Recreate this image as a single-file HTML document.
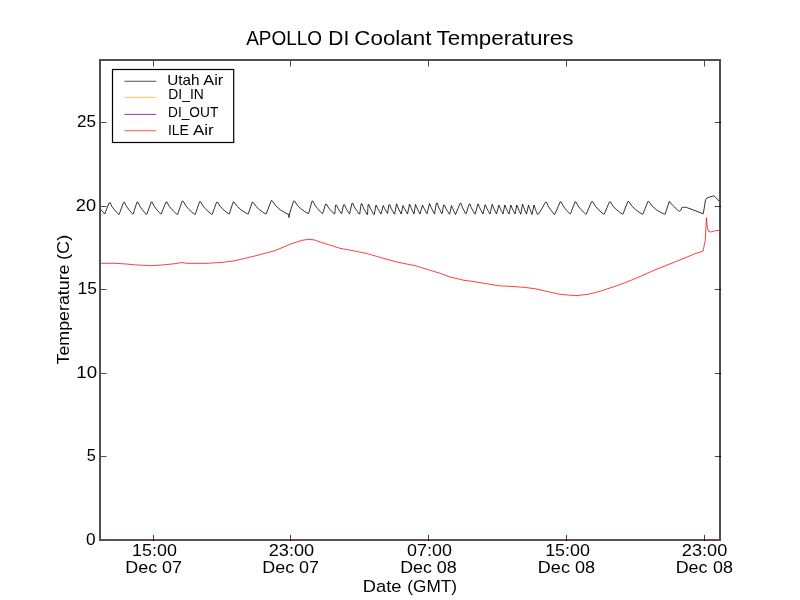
<!DOCTYPE html>
<html><head><meta charset="utf-8"><title>APOLLO DI Coolant Temperatures</title>
<style>
html,body{margin:0;padding:0;background:#fff;}
body{width:800px;height:600px;overflow:hidden;font-family:"Liberation Sans",sans-serif;}
svg{display:block;will-change:transform;transform:translateZ(0);}
text{font-family:"Liberation Sans",sans-serif;fill:#000;}
</style></head><body>
<svg width="800" height="600" viewBox="0 0 800 600">
<rect x="0" y="0" width="800" height="600" fill="#ffffff"/>

<path d="M100.00,208.60 L104.65,214.00 L109.15,202.85 L110.15,202.80 L111.92,206.48 L114.25,209.64 L116.58,212.29 L118.45,214.40 L119.15,214.40 L123.55,202.35 L124.55,202.30 L126.25,205.95 L128.50,209.11 L130.75,211.77 L132.55,213.90 L133.25,213.90 L136.95,202.15 L137.95,202.10 L139.70,205.96 L142.00,209.29 L144.30,212.07 L146.15,214.30 L146.85,214.30 L151.15,202.15 L152.15,202.10 L153.95,205.86 L156.30,209.07 L158.65,211.76 L160.55,213.90 L161.25,213.90 L165.95,202.15 L166.95,202.10 L169.15,206.14 L171.90,209.49 L174.65,212.20 L176.95,214.30 L177.65,214.30 L182.15,201.15 L183.15,201.10 L185.70,205.62 L188.80,209.27 L191.90,212.14 L194.55,214.30 L195.25,214.30 L199.55,201.75 L200.55,201.70 L203.00,205.98 L206.00,209.45 L209.00,212.21 L211.55,214.30 L212.25,214.30 L216.55,202.15 L217.55,202.10 L220.00,206.10 L223.00,209.36 L226.00,211.95 L228.55,213.90 L229.25,213.90 L233.15,202.15 L234.15,202.10 L237.20,206.33 L240.80,209.62 L244.40,212.11 L247.55,213.90 L248.25,213.90 L252.15,202.35 L253.15,202.30 L255.95,206.37 L259.30,209.59 L262.65,212.08 L265.55,213.90 L266.25,213.90 L271.15,200.75 L272.15,200.70 L275.85,205.87 L280.10,209.68 L284.35,212.42 L288.15,214.30 L288.85,214.30 L289.00,217.60 L289.40,214.00 L293.55,201.15 L294.55,201.10 L297.60,205.55 L301.20,209.00 L304.80,211.62 L307.95,213.50 L308.65,213.50 L311.95,201.15 L312.95,201.10 L314.92,205.09 L317.45,208.45 L319.98,211.22 L322.05,213.40 L322.75,213.40 L325.55,204.15 L326.55,204.10 L328.12,207.14 L330.25,209.81 L332.38,212.08 L334.05,213.90 L334.75,213.90 L335.55,205.15 L336.55,205.10 L337.83,208.24 L339.67,211.06 L341.05,213.40 L341.75,213.40 L343.55,204.85 L344.55,204.80 L345.83,208.13 L347.67,211.11 L349.05,213.60 L349.75,213.60 L351.85,203.35 L352.85,203.30 L354.10,206.48 L355.90,209.34 L357.70,211.83 L359.05,213.90 L359.75,213.90 L361.05,203.95 L362.05,203.90 L363.43,207.91 L365.37,211.45 L366.85,214.40 L367.55,214.40 L368.05,204.65 L369.05,204.60 L370.33,208.31 L372.17,211.62 L373.55,214.40 L374.25,214.40 L376.00,205.00 L377.67,208.39 L379.33,211.38 L381.00,214.00 L383.20,205.50 L384.63,208.47 L386.07,211.12 L387.50,213.50 L388.85,204.85 L389.85,204.80 L391.03,208.22 L392.77,211.30 L394.05,213.90 L394.75,213.90 L396.50,203.80 L398.07,207.62 L399.63,211.00 L401.20,214.00 L403.00,205.50 L404.50,208.67 L406.00,211.49 L407.50,214.00 L409.50,204.00 L411.00,207.72 L412.50,211.04 L414.00,214.00 L415.50,204.50 L417.00,208.04 L418.50,211.19 L420.00,214.00 L422.50,205.00 L424.00,208.28 L425.50,211.20 L427.00,213.80 L429.50,203.50 L431.17,207.46 L432.83,210.94 L434.50,214.00 L436.35,203.15 L437.35,203.10 L438.53,206.98 L440.27,210.45 L441.55,213.40 L442.25,213.40 L443.55,205.15 L444.55,205.10 L445.83,208.43 L447.67,211.41 L449.05,213.90 L449.75,213.90 L451.50,205.50 L452.83,208.81 L454.17,211.80 L455.50,214.50 L460.05,203.35 L461.05,203.30 L462.33,207.24 L464.17,210.75 L465.55,213.70 L466.25,213.70 L469.05,204.15 L470.05,204.10 L471.33,207.81 L473.17,211.12 L474.55,213.90 L475.25,213.90 L478.00,203.80 L479.67,207.64 L481.33,211.03 L483.00,214.00 L485.20,204.70 L486.80,208.19 L488.40,211.27 L490.00,214.00 L492.20,204.20 L493.63,207.83 L495.07,211.09 L496.50,214.00 L498.80,205.00 L500.20,208.33 L501.60,211.32 L503.00,214.00 L504.80,205.00 L506.20,208.33 L507.60,211.32 L509.00,214.00 L510.80,205.00 L512.20,208.33 L513.60,211.32 L515.00,214.00 L516.80,205.00 L518.13,208.42 L519.47,211.51 L520.80,214.30 L522.50,204.00 L523.83,207.68 L525.17,211.00 L526.50,214.00 L528.50,205.00 L529.67,208.45 L530.83,211.61 L532.00,214.50 L534.00,205.00 L535.17,208.45 L536.33,211.61 L537.50,214.50 L539.00,213.50 L545.55,202.15 L546.55,202.10 L548.12,205.93 L550.25,209.26 L552.38,212.09 L554.05,214.40 L554.75,214.40 L560.15,201.95 L561.15,201.90 L563.01,205.71 L565.42,208.96 L567.84,211.66 L569.80,213.80 L570.50,213.80 L574.95,201.95 L575.95,201.90 L578.05,205.90 L580.70,209.25 L583.35,211.97 L585.55,214.10 L586.25,214.10 L591.65,201.55 L592.65,201.50 L595.08,205.77 L598.05,209.24 L601.02,212.00 L603.55,214.10 L604.25,214.10 L609.40,201.95 L610.40,201.90 L613.06,206.12 L616.28,209.50 L619.49,212.14 L622.25,214.10 L622.95,214.10 L627.85,201.55 L628.85,201.50 L631.90,206.02 L635.50,209.53 L639.10,212.19 L642.25,214.10 L642.95,214.10 L647.85,201.55 L648.85,201.50 L652.45,206.29 L656.60,209.84 L660.75,212.42 L664.45,214.20 L665.15,214.20 L669.30,201.30 L671.50,204.00 L674.00,206.60 L677.50,210.00 L679.80,211.40 L680.60,210.60 L681.80,207.70 L683.50,207.20 L686.50,207.40 L703.20,213.80 L704.40,207.00 L705.50,199.80 L707.00,198.00 L710.50,196.70 L713.90,195.90 L715.80,197.50 L719.80,202.00" fill="none" stroke="#000" stroke-width="0.8" stroke-linejoin="round"/>
<path d="M100.00,263.30 L115.00,263.30 L125.00,263.90 L133.00,264.70 L151.00,265.70 L163.00,264.90 L175.00,263.70 L182.00,262.50 L187.00,263.30 L207.00,263.30 L223.00,262.30 L235.00,260.70 L245.00,258.30 L255.00,255.90 L275.00,250.70 L290.00,244.30 L302.00,240.30 L309.00,239.30 L314.00,239.90 L326.00,243.90 L340.00,248.30 L354.00,250.90 L366.00,253.30 L380.00,257.30 L394.00,261.30 L400.00,262.70 L416.00,265.90 L440.00,273.30 L450.00,276.90 L464.00,280.30 L472.00,281.30 L484.00,283.30 L500.00,285.90 L510.00,286.30 L524.00,287.30 L536.00,288.90 L548.00,291.70 L560.00,294.30 L576.00,295.70 L588.00,294.30 L600.00,291.30 L618.00,285.30 L636.00,278.30 L654.00,270.30 L670.00,263.90 L684.00,258.30 L696.00,253.30 L703.00,251.30 L705.30,240.00 L706.40,217.60 L707.30,228.00 L708.70,231.30 L710.70,232.00 L714.70,230.90 L719.60,230.30" fill="none" stroke="#ff0000" stroke-width="0.75" stroke-linejoin="round"/>
<rect x="100" y="60" width="620" height="480" fill="none" stroke="#505050" stroke-width="2"/>
<rect x="101" y="539" width="618.8" height="1" fill="#85414e"/>
<rect x="153" y="61" width="1" height="5.55" fill="#4e4e4e"/>
<rect x="153" y="534.9" width="1" height="4.1" fill="#404040"/>
<rect x="153" y="539" width="1" height="2" fill="#000"/>
<rect x="290" y="61" width="1" height="5.55" fill="#4e4e4e"/>
<rect x="290" y="534.9" width="1" height="4.1" fill="#404040"/>
<rect x="290" y="539" width="1" height="2" fill="#000"/>
<rect x="428" y="61" width="1" height="5.55" fill="#4e4e4e"/>
<rect x="428" y="534.9" width="1" height="4.1" fill="#404040"/>
<rect x="428" y="539" width="1" height="2" fill="#000"/>
<rect x="566" y="61" width="1" height="5.55" fill="#4e4e4e"/>
<rect x="566" y="534.9" width="1" height="4.1" fill="#404040"/>
<rect x="566" y="539" width="1" height="2" fill="#000"/>
<rect x="704" y="61" width="1" height="5.55" fill="#4e4e4e"/>
<rect x="704" y="534.9" width="1" height="4.1" fill="#404040"/>
<rect x="704" y="539" width="1" height="2" fill="#000"/>
<rect x="101" y="122" width="5.55" height="1" fill="#4e4e4e"/>
<rect x="714.75" y="122" width="4.25" height="1" fill="#484848"/>
<rect x="719" y="122" width="2" height="1" fill="#000"/>
<rect x="101" y="206" width="5.55" height="1" fill="#4e4e4e"/>
<rect x="714.75" y="206" width="4.25" height="1" fill="#484848"/>
<rect x="719" y="206" width="2" height="1" fill="#000"/>
<rect x="101" y="289" width="5.55" height="1" fill="#4e4e4e"/>
<rect x="714.75" y="289" width="4.25" height="1" fill="#484848"/>
<rect x="719" y="289" width="2" height="1" fill="#000"/>
<rect x="101" y="373" width="5.55" height="1" fill="#4e4e4e"/>
<rect x="714.75" y="373" width="4.25" height="1" fill="#484848"/>
<rect x="719" y="373" width="2" height="1" fill="#000"/>
<rect x="101" y="456" width="5.55" height="1" fill="#4e4e4e"/>
<rect x="714.75" y="456" width="4.25" height="1" fill="#484848"/>
<rect x="719" y="456" width="2" height="1" fill="#000"/>
<rect x="112.5" y="69.5" width="121.2" height="73" fill="#fff" stroke="#000" stroke-width="1.2"/>
<rect x="124.4" y="81" width="31.9" height="1" fill="#7b7b7b"/>
<rect x="124.4" y="80" width="31.9" height="1" fill="#d6d6d6"/>
<rect x="124.4" y="97" width="31.9" height="1" fill="#ffce73"/>
<rect x="124.4" y="96" width="31.9" height="1" fill="#fff2de"/>
<rect x="124.4" y="114" width="31.9" height="1" fill="#a84ca8"/>
<rect x="124.4" y="113" width="31.9" height="1" fill="#f3e8f3"/>
<rect x="124.4" y="130" width="31.9" height="1" fill="#ff7a7a"/>
<rect x="124.4" y="131" width="31.9" height="1" fill="#ffdcdc"/>
<text x="246.18" y="44.50" font-size="20.30" text-anchor="start" textLength="75.75" lengthAdjust="spacingAndGlyphs">APOLLO</text>
<text x="328.36" y="44.50" font-size="20.30" text-anchor="start" textLength="20.91" lengthAdjust="spacingAndGlyphs">DI</text>
<text x="354.34" y="44.50" font-size="20.30" text-anchor="start" textLength="77.06" lengthAdjust="spacingAndGlyphs">Coolant</text>
<text x="436.50" y="44.50" font-size="20.30" text-anchor="start" textLength="137.03" lengthAdjust="spacingAndGlyphs">Temperatures</text>
<text x="132.08" y="556.00" font-size="16.80" text-anchor="start" textLength="44.80" lengthAdjust="spacingAndGlyphs">15:00</text>
<text x="125.18" y="573.00" font-size="16.80" text-anchor="start" textLength="31.94" lengthAdjust="spacingAndGlyphs">Dec</text>
<text x="161.92" y="573.00" font-size="16.80" text-anchor="start" textLength="19.99" lengthAdjust="spacingAndGlyphs">07</text>
<text x="268.72" y="556.00" font-size="16.80" text-anchor="start" textLength="45.46" lengthAdjust="spacingAndGlyphs">23:00</text>
<text x="262.18" y="573.00" font-size="16.80" text-anchor="start" textLength="31.94" lengthAdjust="spacingAndGlyphs">Dec</text>
<text x="298.92" y="573.00" font-size="16.80" text-anchor="start" textLength="19.99" lengthAdjust="spacingAndGlyphs">07</text>
<text x="407.01" y="556.00" font-size="16.80" text-anchor="start" textLength="44.85" lengthAdjust="spacingAndGlyphs">07:00</text>
<text x="400.20" y="573.00" font-size="16.80" text-anchor="start" textLength="31.63" lengthAdjust="spacingAndGlyphs">Dec</text>
<text x="436.89" y="573.00" font-size="16.80" text-anchor="start" textLength="19.99" lengthAdjust="spacingAndGlyphs">08</text>
<text x="545.15" y="556.00" font-size="16.80" text-anchor="start" textLength="44.84" lengthAdjust="spacingAndGlyphs">15:00</text>
<text x="537.86" y="573.00" font-size="16.80" text-anchor="start" textLength="32.02" lengthAdjust="spacingAndGlyphs">Dec</text>
<text x="574.92" y="573.00" font-size="16.80" text-anchor="start" textLength="20.16" lengthAdjust="spacingAndGlyphs">08</text>
<text x="681.86" y="556.00" font-size="16.80" text-anchor="start" textLength="45.35" lengthAdjust="spacingAndGlyphs">23:00</text>
<text x="675.67" y="573.00" font-size="16.80" text-anchor="start" textLength="31.83" lengthAdjust="spacingAndGlyphs">Dec</text>
<text x="713.03" y="573.00" font-size="16.80" text-anchor="start" textLength="19.95" lengthAdjust="spacingAndGlyphs">08</text>
<text x="362.84" y="591.80" font-size="16.80" text-anchor="start" textLength="38.68" lengthAdjust="spacingAndGlyphs">Date</text>
<text x="407.30" y="591.80" font-size="16.80" text-anchor="start" textLength="49.77" lengthAdjust="spacingAndGlyphs">(GMT)</text>
<text x="167.34" y="84.90" font-size="14.40" text-anchor="start" textLength="32.26" lengthAdjust="spacingAndGlyphs">Utah</text>
<text x="203.34" y="84.90" font-size="14.40" text-anchor="start" textLength="19.96" lengthAdjust="spacingAndGlyphs">Air</text>
<text x="168.35" y="98.90" font-size="14.40" text-anchor="start" textLength="35.48" lengthAdjust="spacingAndGlyphs">DI_IN</text>
<text x="168.05" y="116.90" font-size="14.40" text-anchor="start" textLength="50.25" lengthAdjust="spacingAndGlyphs">DI_OUT</text>
<text x="167.91" y="134.90" font-size="14.40" text-anchor="start" textLength="20.91" lengthAdjust="spacingAndGlyphs">ILE</text>
<text x="192.90" y="134.90" font-size="14.40" text-anchor="start" textLength="20.79" lengthAdjust="spacingAndGlyphs">Air</text>
<g transform="translate(68.80,364.52) rotate(-90)"><text x="0.00" y="0.00" font-size="16.80" text-anchor="start" textLength="100.06" lengthAdjust="spacingAndGlyphs">Temperature</text></g>
<g transform="translate(68.80,259.89) rotate(-90)"><text x="0.00" y="0.00" font-size="16.80" text-anchor="start" textLength="25.07" lengthAdjust="spacingAndGlyphs">(C)</text></g>
<text x="76.93" y="127.00" font-size="16.80" text-anchor="start" textLength="18.96" lengthAdjust="spacingAndGlyphs">25</text>
<text x="75.88" y="211.00" font-size="16.80" text-anchor="start" textLength="20.23" lengthAdjust="spacingAndGlyphs">20</text>
<text x="77.44" y="294.00" font-size="16.80" text-anchor="start" textLength="19.42" lengthAdjust="spacingAndGlyphs">15</text>
<text x="76.23" y="378.00" font-size="16.80" text-anchor="start" textLength="20.83" lengthAdjust="spacingAndGlyphs">10</text>
<text x="86.67" y="461.00" font-size="16.80" text-anchor="start" textLength="9.11" lengthAdjust="spacingAndGlyphs">5</text>
<text x="86.12" y="544.90" font-size="16.80" text-anchor="start" textLength="9.64" lengthAdjust="spacingAndGlyphs">0</text>
</svg>
</body></html>
